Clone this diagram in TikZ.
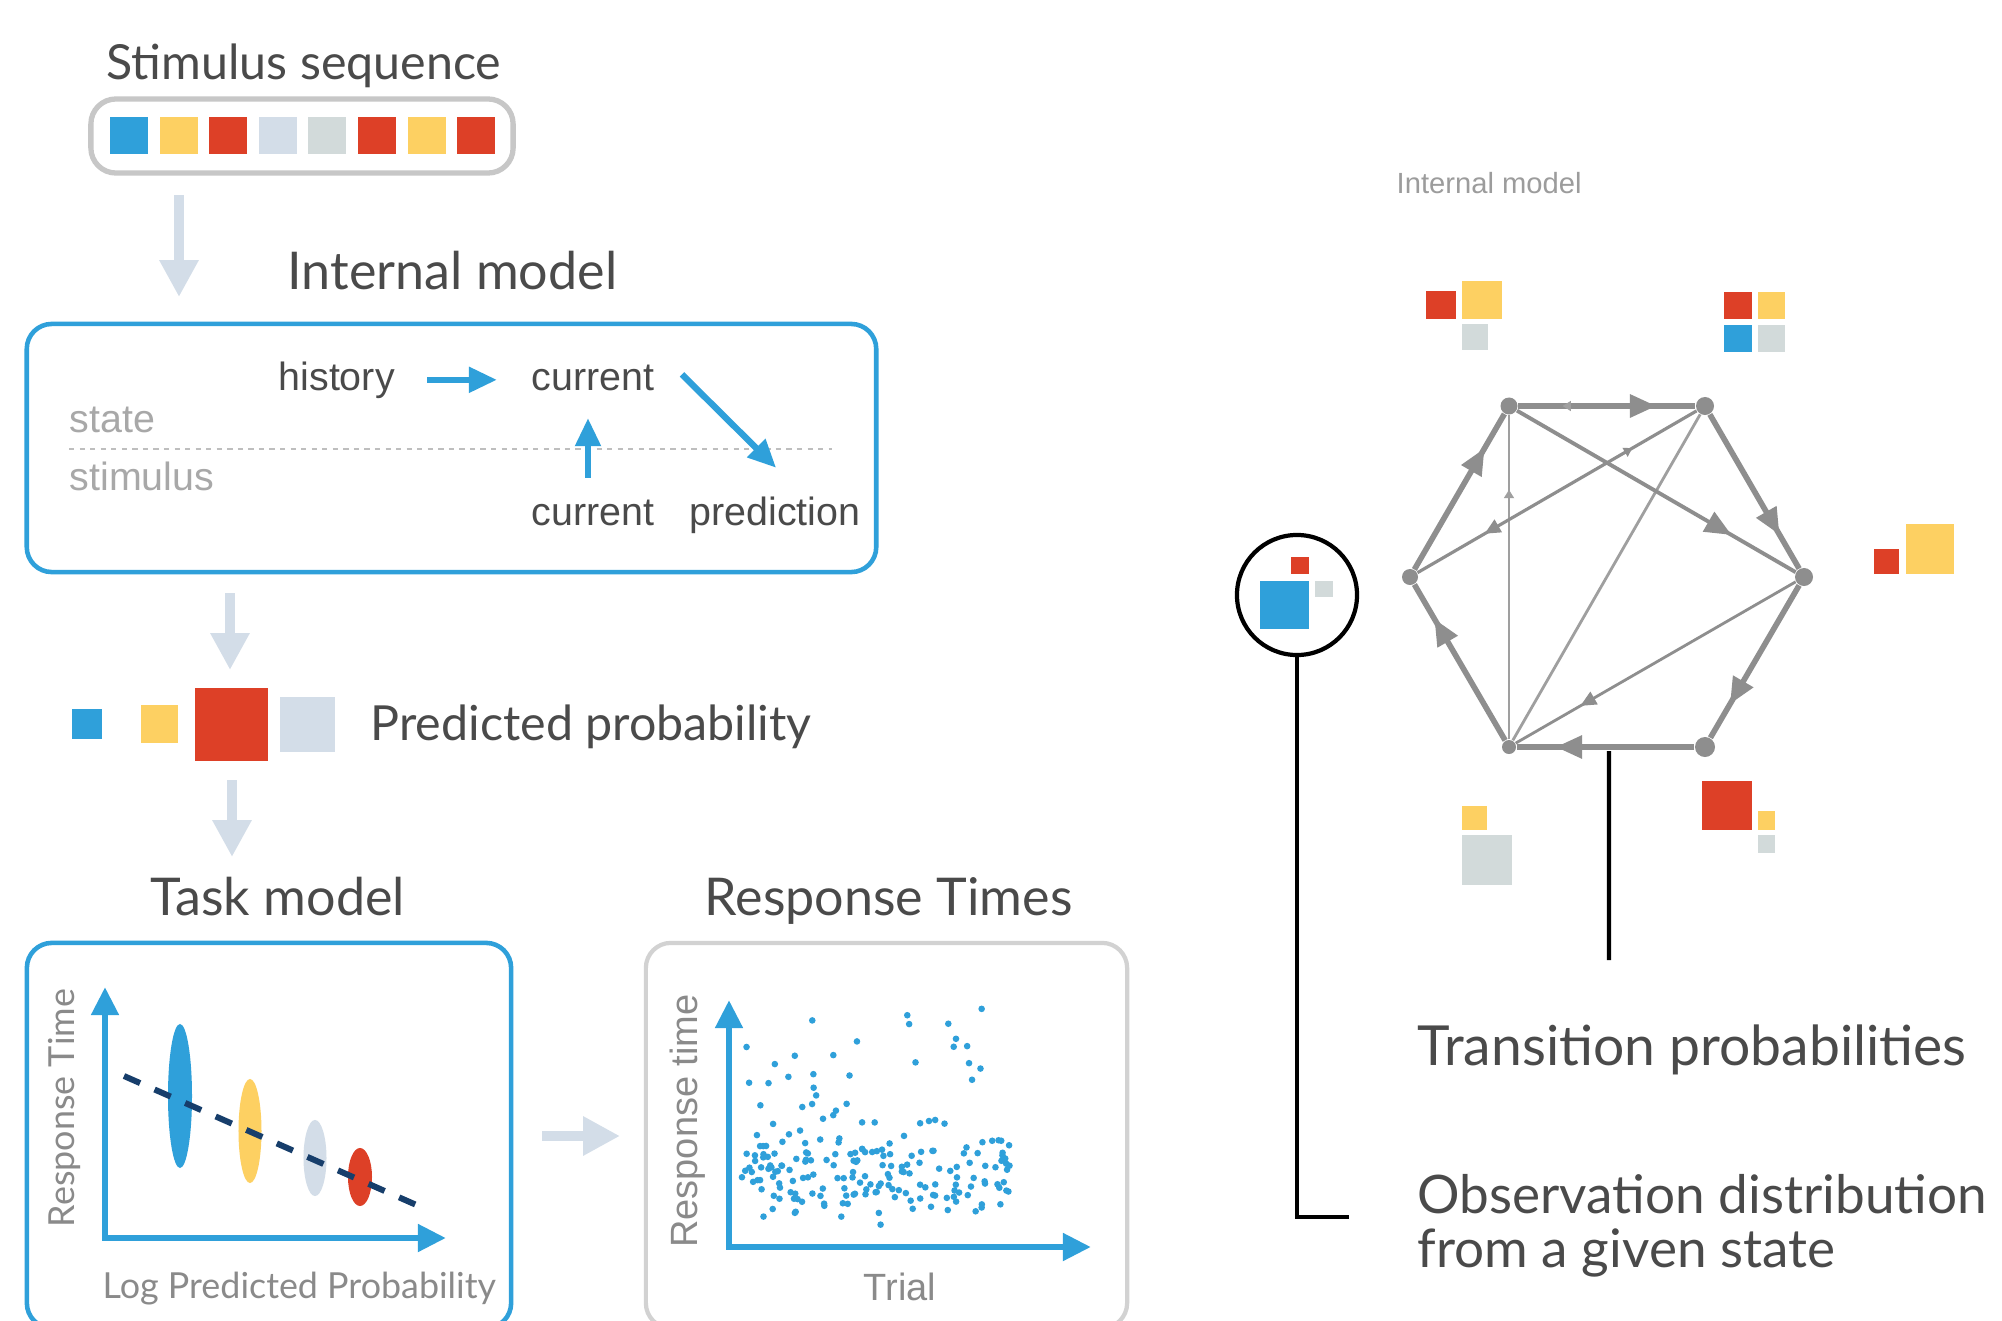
\documentclass[tikz,border=0pt]{standalone}
\usepackage{fontspec}
\setmainfont{Lato}
\newfontfamily\helvfont{Liberation Sans}
\usetikzlibrary{
  arrows.meta,
  positioning,
  calc,
  decorations.markings
}
\definecolor{imBlue}{HTML}{2FA0DA}
\definecolor{imYellow}{HTML}{FDD062}
\definecolor{imRed}{HTML}{DD4027}
\definecolor{imPale}{HTML}{D3DDE8}
\definecolor{imGrey}{HTML}{D2DADA}
\definecolor{imFlow}{HTML}{D3DDE8}
\definecolor{imEdge}{HTML}{8E8E8E}
\definecolor{imText}{HTML}{4A4A4A}
\definecolor{imMute}{HTML}{A8A8A8}
\definecolor{imAxis}{HTML}{8A8A8A}
\definecolor{imNavy}{HTML}{173E6B}
\definecolor{imFrame}{HTML}{D2D2D2}
\tikzset{
  imtitle/.style={font=\fontsize{14.8}{17}\selectfont, text=imText, inner sep=0pt, anchor=base west},
  imtitlesm/.style={imtitle, font=\fontsize{13.75}{16}\selectfont},
  imbig/.style={font=\fontsize{15.7}{19}\selectfont, text=imText, inner sep=0pt, anchor=base west},
  imlabel/.style={font=\helvfont\fontsize{11.2}{13}\selectfont, text=imText, inner sep=0pt, anchor=base west},
  imstate/.style={imlabel, text=imMute},
  axislabel/.style={font=\fontsize{10.2}{12}\selectfont, text=imAxis, inner sep=0pt},
  helvaxis/.style={font=\helvfont\fontsize{10.8}{12}\selectfont, text=imAxis, inner sep=0pt},
  bluebox/.style={draw=imBlue, line width=1.3pt, rounded corners=0.25cm, inner sep=0pt},
  greybox/.style={draw=imFrame, line width=1.2pt, rounded corners=0.25cm, inner sep=0pt},
  flow/.style={imFlow, line width=2.9pt, -{Triangle[width=10.5pt, length=10.5pt]}},
  blueflow/.style={imBlue, line width=1.8pt, -{Triangle[width=7pt, length=8pt]}},
  axisline/.style={imBlue, line width=1.9pt, line join=miter,
    {Triangle[width=7.5pt, length=8pt]}-{Triangle[width=7.5pt, length=8pt]}},
  hnode/.style={circle, fill=imEdge, inner sep=0pt},
  gedge/.style={draw=imEdge, line width=1.6pt},
  gmid/.style={draw=imEdge, line width=0.9pt},
  gthin/.style={draw=imEdge!85, line width=0.6pt},
  gmark/.style={postaction={decorate}, decoration={markings,
    mark=at position #1 with {\arrow{Triangle[width=6.3pt, length=7.5pt]}}}},
  gsmall/.style={postaction={decorate}, decoration={markings,
    mark=at position #1 with {\arrow{Triangle[width=4pt, length=4.5pt]}}}},
  gtick/.style={postaction={decorate}, decoration={markings,
    mark=at position #1 with {\arrow{Triangle[width=2.8pt, length=2.4pt]}}}},
  leader/.style={black, line width=1.2pt},
  rtdot/.style={fill=imBlue}
}

\begin{document}
\begin{tikzpicture}[x=0.01cm, y=-0.01cm]
  \useasboundingbox (0,0) rectangle (2002,1321);
  \clip (0,0) rectangle (2002,1321);
  \fill[white] (0,0) rectangle (2002,1321);

  \node[imtitlesm] (seqtitle) at (106,79) {Stimulus sequence};
  \node[greybox, draw=imFrame!95!black, line width=1.5pt, minimum width=4.22cm, minimum height=0.74cm] (seq) at (302,136) {};
  \foreach \c [count=\i from 0] in {imBlue,imYellow,imRed,imPale,imGrey,imRed,imYellow,imRed}
    \fill[\c] ({110+49.6*\i},117) rectangle ++(38,37);

  \coordinate (f1a) at (179,195);
  \coordinate (f1b) at (179,297);
  \draw[flow] (f1a) -- (f1b);

  \node[imtitle] (imtitle) at (287,289) {Internal model};
  \node[bluebox, minimum width=8.49cm, minimum height=2.48cm] (intbox) at (451.5,448) {};
  \node[imlabel] (hist) at (278,390) {history};
  \node[imlabel] (curS) at (531,390) {current};
  \node[imstate] (lstate) at (69,432) {state};
  \node[imstate] (lstim) at (69,490) {stimulus};
  \node[imlabel] (curO) at (531,525) {current};
  \node[imlabel] (pred) at (689,525) {prediction};
  \draw[imMute!75, line width=0.75pt, dash pattern=on 1.5pt off 1.5pt] (69,449) -- (832,449);
  \draw[blueflow, shorten <=0.32cm, shorten >=0.34cm] (hist.east) -- (hist.east -| curS.west);
  \draw[blueflow] ([shift={(27,-3)}]curS.east) -- ([shift={(1,-28)}]pred.north);
  \draw[blueflow] ([shift={(-5,-21)}]curO.north) -- ([shift={(-5,27)}]curS.south);

  \coordinate (f2a) at (230,593);
  \coordinate (f2b) at (230,670);
  \draw[flow] (f2a) -- (f2b);

  \fill[imBlue] (72,709) rectangle ++(30,30);
  \fill[imYellow] (141,705) rectangle ++(37,38);
  \fill[imRed] (195,688) rectangle ++(73,73);
  \fill[imPale] (280,697) rectangle ++(55,55);
  \node[imtitlesm] (predtitle) at (370,740) {Predicted probability};

  \coordinate (f3a) at (232,780);
  \coordinate (f3b) at (232,857);
  \draw[flow] (f3a) -- (f3b);

  \node[imtitle] (tasktitle) at (150,915) {Task model};
  \node[bluebox, minimum width=4.84cm, minimum height=3.85cm] (taskbox) at (269,1135.5) {};
  \coordinate (tO) at (105,1238);
  \coordinate (tY) at (105,987);
  \coordinate (tX) at (446,1238);
  \draw[axisline] (tY) -- (tO) -- (tX);
  \node[axislabel, rotate=90] (tyl) at (64,1108) {Response Time};
  \node[axislabel, anchor=base west] (txl) at (102,1298) {Log Predicted Probability};
  \fill[imBlue] (180,1096) ellipse [x radius=0.12cm, y radius=0.72cm];
  \fill[imYellow] (250,1131) ellipse [x radius=0.115cm, y radius=0.52cm];
  \fill[imPale] (315,1158) ellipse [x radius=0.115cm, y radius=0.38cm];
  \fill[imRed] (360,1177) ellipse [x radius=0.12cm, y radius=0.29cm];
  \draw[imNavy, line width=1.7pt, dash pattern=on 5pt off 4.5pt] (124,1076) -- (421,1207);

  \coordinate (f4a) at (542,1136);
  \coordinate (f4b) at (620,1136);
  \draw[flow] (f4a) -- (f4b);

  \node[imtitle] (rttitle) at (704,915) {Response Times};
  \node[greybox, minimum width=4.81cm, minimum height=3.85cm] (rtbox) at (886.5,1135.5) {};
  \coordinate (rO) at (729,1247);
  \coordinate (rY) at (729,1000);
  \coordinate (rX) at (1091,1247);
  \draw[axisline] (rY) -- (rO) -- (rX);
  \node[helvaxis, rotate=90] (ryl) at (688,1121) {Response time};
  \node[helvaxis, anchor=base west] (rxl) at (863,1300) {Trial};
  \pgfmathsetseed{42}
  \foreach \i in {1,...,175}{
    \pgfmathsetmacro{\px}{740+271*rnd}
    \pgfmathsetmacro{\py}{1122+53*(rnd+rnd)}
    \fill[rtdot] (\px,\py) circle [radius=0.033cm];
  }
  \foreach \i in {1,...,38}{
    \pgfmathsetmacro{\px}{740+250*rnd}
    \pgfmathsetmacro{\py}{1124-118*rnd^1.6}
    \fill[rtdot] (\px,\py) circle [radius=0.033cm];
  }

  \node[font=\helvfont\fontsize{8.3}{10}\selectfont, text=imAxis!85, inner sep=0pt, anchor=base west] (rimtitle) at (1396,193) {Internal model};

  \node[hnode, minimum size=0.17cm] (stTL) at (1509,406) {};
  \node[hnode, minimum size=0.18cm] (stTR) at (1705,406) {};
  \node[hnode, minimum size=0.18cm] (stR) at (1804,577) {};
  \node[hnode, minimum size=0.20cm] (stBR) at (1705,747) {};
  \node[hnode, minimum size=0.14cm] (stBL) at (1509,747) {};
  \node[hnode, minimum size=0.16cm] (stL) at (1410,577) {};
  \draw[gthin, gtick=0.77] (stBL) -- (stTL);
  \draw[gthin, line width=0.8pt] (stTR) -- (stBL);
  \draw[gmid, line width=0.8pt, gsmall=0.77] (stR) -- (stBL);
  \draw[gmid, gsmall=0.76] (stTR) -- (stL);
  \draw[gmid, draw=none, gtick=0.77] (stL) -- (stTR);
  \draw[gmid, line width=1.1pt, gmark=0.77] (stTL) -- (stR);
  \foreach \a/\b in {stTL/stTR, stTR/stR, stR/stBR, stBR/stBL, stBL/stL, stL/stTL}
    \draw[gedge, gmark=0.78] (\a) -- (\b);
  \draw[gthin, draw=none, gtick=0.75] (stTR) -- (stTL);

  \foreach \c/\x/\y/\w/\h in {imRed/1426/291/30/28, imYellow/1462/281/40/38, imGrey/1462/324/26/26,
    imRed/1724/292/28/27, imYellow/1758/292/27/27, imBlue/1724/325/28/27, imGrey/1758/325/27/27,
    imRed/1874/549/25/25, imYellow/1906/524/48/50,
    imRed/1702/781/50/49, imYellow/1758/811/17/19, imGrey/1758/835/17/18,
    imYellow/1462/806/25/24, imGrey/1462/835/50/50}
    \fill[\c] (\x,\y) rectangle ++(\w,\h);

  \node[draw=black, circle, line width=1.2pt, minimum size=1.2cm, inner sep=0pt] (obs) at (1297,595) {};
  \fill[imRed] (1291,557) rectangle ++(18,17);
  \fill[imBlue] (1260,581) rectangle ++(49,48);
  \fill[imGrey] (1315,581) rectangle ++(18,16);

  \coordinate (obsend) at (1349,1217);
  \draw[leader] (obs.south) |- (obsend);
  \coordinate (trtop) at ($(stBL)!0.51!(stBR)+(0,4)$);
  \coordinate (trend) at (1609,960);
  \draw[leader] (trtop) -- (trend);

  \node[imbig] (trlabel) at (1417,1065) {Transition probabilities};
  \node[imbig, font=\fontsize{15.1}{18}\selectfont] (obs1) at (1417,1213) {Observation distribution};
  \node[imbig, font=\fontsize{15.1}{18}\selectfont] (obs2) at (1417,1267) {from a given state};
\end{tikzpicture}
\end{document}
